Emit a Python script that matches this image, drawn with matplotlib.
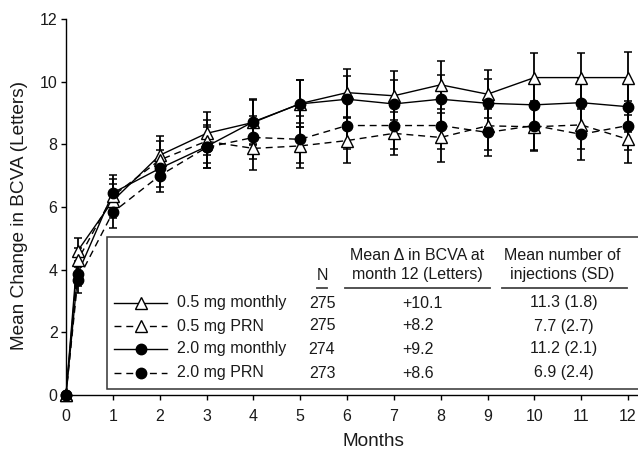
import matplotlib
matplotlib.use("Agg")
import matplotlib.pyplot as plt
from matplotlib.patches import Rectangle
from matplotlib.lines import Line2D

plt.rcParams['font.family'] = ['Liberation Sans', 'DejaVu Sans']

months = [0, 0.25, 1, 2, 3, 4, 5, 6, 7, 8, 9, 10, 11, 12]
xticks = list(range(0, 13))
yticks = [0, 2, 4, 6, 8, 10, 12]

mono05 = [0, 4.6, 6.2, 7.65, 8.35, 8.7, 9.3, 9.65, 9.55, 9.9, 9.6, 10.13, 10.13, 10.13]
prn05 = [0, 4.3, 6.35, 7.5, 8.1, 7.87, 7.95, 8.12, 8.35, 8.22, 8.59, 8.56, 8.62, 8.16]
mono20 = [0, 3.87, 6.45, 7.23, 7.93, 8.72, 9.29, 9.44, 9.29, 9.44, 9.31, 9.26, 9.33, 9.2]
prn20 = [0, 3.66, 5.83, 7.0, 7.9, 8.22, 8.16, 8.6, 8.6, 8.6, 8.38, 8.6, 8.32, 8.6]

se_mono05 = [0, 0.4, 0.55, 0.62, 0.69, 0.72, 0.75, 0.77, 0.78, 0.77, 0.77, 0.8, 0.8, 0.83]
se_prn05 = [0, 0.4, 0.55, 0.6, 0.68, 0.7, 0.72, 0.71, 0.69, 0.79, 0.76, 0.76, 0.78, 0.77]
se_mono20 = [0, 0.4, 0.58, 0.6, 0.68, 0.72, 0.75, 0.75, 0.76, 0.76, 0.77, 0.78, 0.78, 0.8]
se_prn20 = [0, 0.42, 0.5, 0.53, 0.66, 0.7, 0.74, 0.75, 0.75, 0.76, 0.75, 0.77, 0.82, 0.78]

labels = ["0.5 mg monthly", "0.5 mg PRN", "2.0 mg monthly", "2.0 mg PRN"]
n_vals = ["275", "275", "274", "273"]
delta_vals = ["+10.1", "+8.2", "+9.2", "+8.6"]
inj_vals = ["11.3 (1.8)", "7.7 (2.7)", "11.2 (2.1)", "6.9 (2.4)"]

W, H = 638, 454
fig = plt.figure(figsize=(W / 100, H / 100), dpi=100)

x0_px, x12_px = 66, 628
y0_px, y12_px = 395, 19
xmax = 12.5
px_per_m = (x12_px - x0_px) / 12.0
ax_w = xmax * px_per_m
ax = fig.add_axes([x0_px / W, (H - y0_px) / H, ax_w / W, (y0_px - y12_px) / H])

txtc = '#1a1a1a'
fs = 11.5
fs_lab = 13.7

series = [
    (mono05, se_mono05, '-', '^', 'white', 8.5),
    (prn05, se_prn05, (0, (5, 3.5)), '^', 'white', 8.5),
    (mono20, se_mono20, '-', 'o', 'black', 7.5),
    (prn20, se_prn20, (0, (5, 3.5)), 'o', 'black', 7.5),
]

for i, (vals, se, ls, mk, mfc, ms) in enumerate(series):
    ax.errorbar(months, vals, yerr=se, fmt='none', ecolor='black', elinewidth=1.3,
                capsize=3, capthick=1.1, zorder=2, clip_on=False)
    ax.plot(months, vals, linestyle=ls, color='black', linewidth=1.0, zorder=3,
            clip_on=False)
    ax.plot(months, vals, linestyle='none', marker=mk, markersize=ms, markerfacecolor=mfc,
            markeredgecolor='black', markeredgewidth=1.0, zorder=4 + i, clip_on=False)

ax.set_xlim(0, xmax)
ax.set_ylim(0, 12)
ax.set_xticks(xticks)
ax.set_yticks(yticks)
ax.tick_params(axis='both', direction='out', length=3.6, width=1.0, labelsize=fs,
               colors='black', labelcolor=txtc)
ax.tick_params(axis='x', pad=6.5)
ax.tick_params(axis='y', pad=2.5)
for s in ['top', 'right']:
    ax.spines[s].set_visible(False)
for s in ['left', 'bottom']:
    ax.spines[s].set_linewidth(1.0)

def fx(px):
    return px / W

def fy(py):
    return 1 - py / H

fig.text(fx(373), fy(442), "Months", ha='center', va='center', fontsize=fs_lab, color=txtc)
fig.text(fx(20), fy(215), "Mean Change in BCVA (Letters)", ha='center', va='center',
         rotation=90, fontsize=fs_lab, color=txtc)

# table box
box_left = (107 - x0_px) / px_per_m
box_top = (y0_px - 237) / ((y0_px - y12_px) / 12)
box_bot = (y0_px - 389) / ((y0_px - y12_px) / 12)
ax.add_patch(Rectangle((box_left, box_bot), xmax + 1 - box_left, box_top - box_bot,
                       facecolor='white', edgecolor='#333333', linewidth=1.1,
                       zorder=10, clip_on=False))

# headers
fig.text(fx(322), fy(275), "N", ha='center', va='center', fontsize=fs, color=txtc)
fig.text(fx(417), fy(255), "Mean \u0394 in BCVA at", ha='center', va='center', fontsize=fs, color=txtc)
fig.text(fx(417), fy(275), "month 12 (Letters)", ha='center', va='center', fontsize=fs, color=txtc)
fig.text(fx(562), fy(255), "Mean number of", ha='center', va='center', fontsize=fs, color=txtc)
fig.text(fx(562), fy(275), "injections (SD)", ha='center', va='center', fontsize=fs, color=txtc)
for (xa, xb) in [(317, 327), (345, 490), (502, 627)]:
    fig.add_artist(Line2D([fx(xa), fx(xb)], [fy(288), fy(288)], color='#444444', linewidth=1.3))

row_y = [303, 326, 349, 373]
for i, (vals, se, ls, mk, mfc, ms) in enumerate(series):
    yy = fy(row_y[i])
    fig.add_artist(Line2D([fx(114), fx(167)], [yy, yy], linestyle=ls, color='black', linewidth=1.0))
    fig.add_artist(Line2D([fx(141)], [yy], linestyle='none', marker=mk, markersize=ms,
                          markerfacecolor=mfc, markeredgecolor='black', markeredgewidth=1.0))
    fig.text(fx(177), yy, labels[i], ha='left', va='center', fontsize=fs, color=txtc)
    fig.text(fx(322), yy, n_vals[i], ha='center', va='center', fontsize=fs, color=txtc)
    fig.text(fx(402), yy, delta_vals[i], ha='left', va='center', fontsize=fs, color=txtc)
    fig.text(fx(564), yy, inj_vals[i], ha='center', va='center', fontsize=fs, color=txtc)

fig.savefig("out.png", dpi=100)
